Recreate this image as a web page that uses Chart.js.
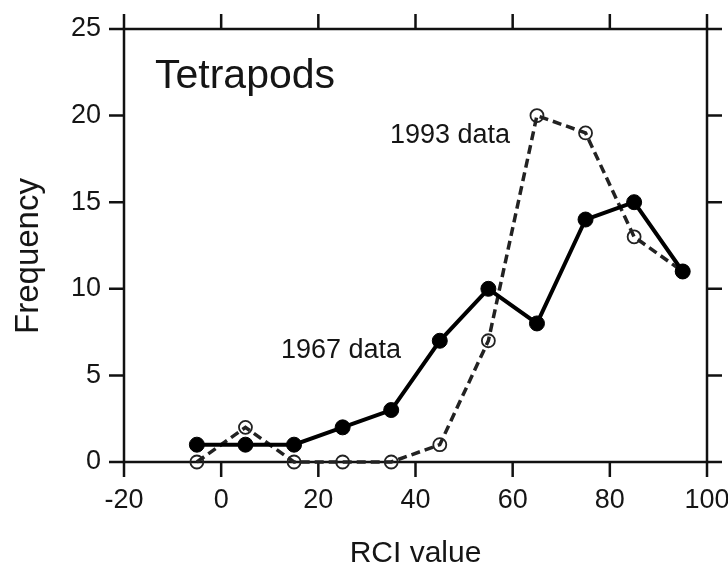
<!DOCTYPE html>
<html>
<head>
<meta charset="utf-8">
<script src="https://cdn.jsdelivr.net/npm/chart.js@4"></script>
<style>
  html, body { margin: 0; padding: 0; background: #fff; }
  #wrap { width: 728px; height: 567px; }
</style>
</head>
<body>
<div id="wrap"><canvas id="chart"></canvas></div>
<script>
const rciValues = [-5, 5, 15, 25, 35, 45, 55, 65, 75, 85, 95];
const freq1967 = [1, 1, 1, 2, 3, 7, 10, 8, 14, 15, 11];
const freq1993 = [0, 2, 0, 0, 0, 1, 7, 20, 19, 13, 11];
const xTicks = [-20, 0, 20, 40, 60, 80, 100];
const yTicks = [0, 5, 10, 15, 20, 25];

const FONT = '"Liberation Sans", Arial, Helvetica, sans-serif';

const toPoints = (ys) => rciValues.map((x, i) => ({ x, y: ys[i] }));

// frame with outward ticks, tick labels, titles and notes
const framePlugin = {
  id: 'frame',
  beforeDatasetsDraw(chart) {
    const { ctx, chartArea: a, scales: { x, y } } = chart;
    const tick = 15;
    ctx.save();
    ctx.strokeStyle = '#111';
    ctx.lineWidth = 2.5;
    ctx.lineCap = 'butt';
    ctx.strokeRect(a.left, a.top, a.right - a.left, a.bottom - a.top);
    ctx.beginPath();
    xTicks.forEach(v => {
      const px = x.getPixelForValue(v);
      ctx.moveTo(px, a.bottom); ctx.lineTo(px, a.bottom + tick);
      ctx.moveTo(px, a.top); ctx.lineTo(px, a.top - tick);
    });
    yTicks.forEach(v => {
      const py = y.getPixelForValue(v);
      ctx.moveTo(a.left, py); ctx.lineTo(a.left - tick, py);
      ctx.moveTo(a.right, py); ctx.lineTo(a.right + tick, py);
    });
    ctx.stroke();

    ctx.fillStyle = '#151515';
    ctx.font = '27px ' + FONT;
    ctx.textAlign = 'center';
    ctx.textBaseline = 'alphabetic';
    xTicks.forEach(v => ctx.fillText(String(v), x.getPixelForValue(v), a.bottom + 46));
    ctx.textAlign = 'right';
    ctx.textBaseline = 'middle';
    yTicks.forEach(v => ctx.fillText(String(v), a.left - 23, y.getPixelForValue(v)));

    ctx.textBaseline = 'alphabetic';
    ctx.textAlign = 'center';
    ctx.font = '30px ' + FONT;
    ctx.fillText('RCI value', (a.left + a.right) / 2, 562);
    ctx.save();
    ctx.translate(38, 256);
    ctx.rotate(-Math.PI / 2);
    ctx.font = '33px ' + FONT;
    ctx.fillText('Frequency', 0, 0);
    ctx.restore();

    ctx.textAlign = 'left';
    ctx.font = '41px ' + FONT;
    ctx.fillText('Tetrapods', 155, 88);
    ctx.font = '27px ' + FONT;
    ctx.fillText('1993 data', 390, 143);
    ctx.fillText('1967 data', 281, 358);
    ctx.restore();
  }
};

new Chart(document.getElementById('chart'), {
  type: 'scatter',
  data: {
    datasets: [
      {
        label: '1967 data',
        data: toPoints(freq1967),
        showLine: true,
        borderColor: '#000',
        borderWidth: 4,
        backgroundColor: '#000',
        pointRadius: 7.5,
        pointBorderWidth: 1,
        pointBorderColor: '#000',
        pointBackgroundColor: '#000',
        clip: false
      },
      {
        label: '1993 data',
        data: toPoints(freq1993),
        showLine: true,
        borderColor: '#222',
        borderWidth: 3.5,
        borderDash: [9, 5],
        pointRadius: 6.5,
        pointBorderWidth: 1.8,
        pointBorderColor: '#222',
        pointBackgroundColor: 'rgba(255,255,255,0)',
        clip: false
      }
    ]
  },
  options: {
    responsive: true,
    maintainAspectRatio: false,
    animation: false,
    layout: { padding: { left: 124, right: 21, top: 29, bottom: 105 } },
    scales: {
      x: { type: 'linear', min: -20, max: 100, display: false },
      y: { type: 'linear', min: 0, max: 25, display: false }
    },
    plugins: {
      legend: { display: false },
      tooltip: { enabled: false }
    }
  },
  plugins: [framePlugin]
});
</script>
</body>
</html>
